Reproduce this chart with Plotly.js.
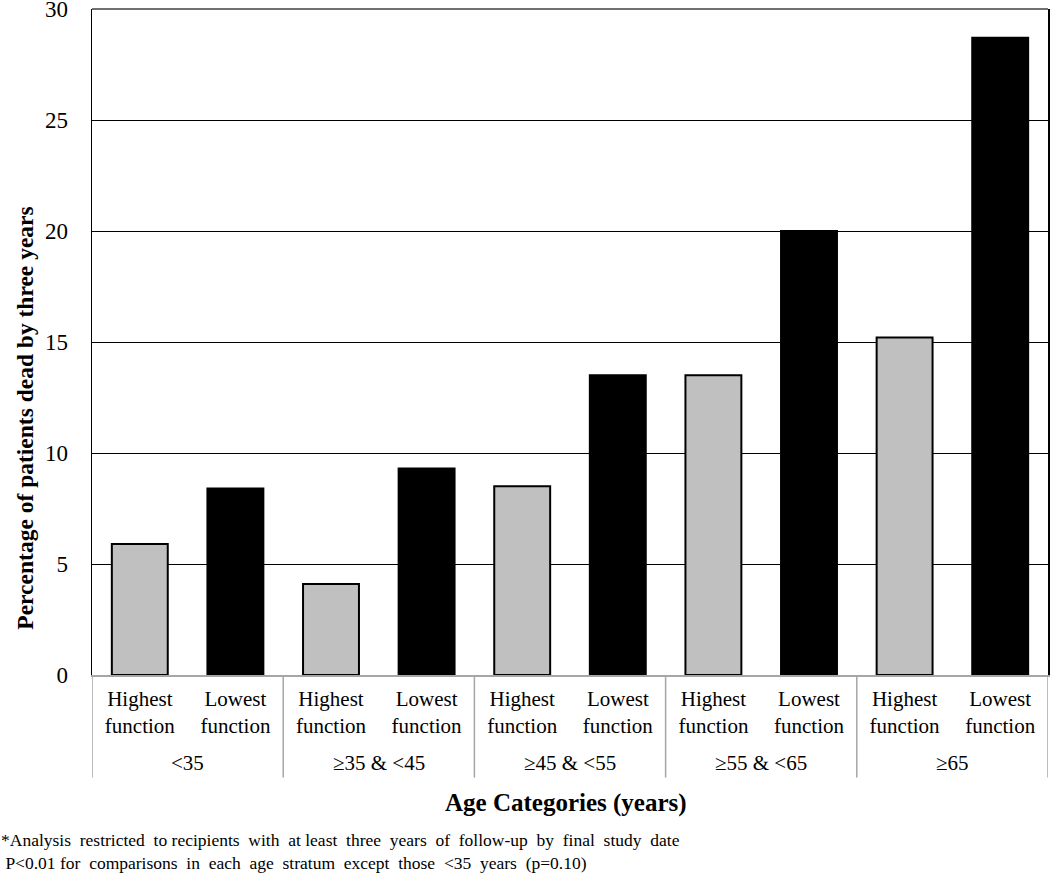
<!DOCTYPE html>
<html>
<head>
<meta charset="utf-8">
<script src="https://cdn.plot.ly/plotly-3.0.1.min.js"></script>
<style>body{margin:0;padding:0;background:#fff;}#chart{width:1050px;height:875px;}</style>
</head>
<body>
<div id="chart"></div>
<script>
const ageGroups = ['<35', '\u226535 & <45', '\u226545 & <55', '\u226555 & <65', '\u226565'];
const functionLevels = ['Highest<br>function', 'Lowest<br>function'];
const highestValues = [5.9, 4.1, 8.5, 13.5, 15.2];
const lowestValues = [8.4, 9.3, 13.5, 20.0, 28.7];
const yTicks = [0, 5, 10, 15, 20, 25, 30];

const serif = 'Liberation Serif, Times New Roman, serif';
const nCat = ageGroups.length * functionLevels.length;
const catIdx = Array.from({length: nCat}, (_, k) => k);
const catText = catIdx.map(k => functionLevels[k % 2]);

const traceHigh = {
  type: 'bar', name: 'Highest function',
  x: ageGroups.map((_, i) => 2 * i), y: highestValues, width: 0.585,
  marker: {color: '#c0c0c0', line: {color: '#000', width: 2}}, hoverinfo: 'skip'
};
const traceLow = {
  type: 'bar', name: 'Lowest function',
  x: ageGroups.map((_, i) => 2 * i + 1), y: lowestValues, width: 0.585,
  marker: {color: '#000', line: {color: '#000', width: 2}}, hoverinfo: 'skip'
};

const groupBottom = -0.154;
const shapes = [];
for (let i = 0; i <= ageGroups.length; i++) {
  shapes.push({type: 'line', xref: 'x', yref: 'paper', x0: 2 * i - 0.5, x1: 2 * i - 0.5, y0: 0, y1: groupBottom,
    line: {color: '#a6a6a6', width: 1.5}});
}
shapes.push({type: 'line', xref: 'paper', yref: 'paper', x0: 0, x1: 1, y0: 1, y1: 1, line: {color: '#404040', width: 1.5}});

const annotations = ageGroups.map((g, i) => ({
  xref: 'x', yref: 'paper', x: 2 * i + 0.5, y: -0.132, xanchor: 'center', yanchor: 'middle',
  showarrow: false, text: g.replace(/</g, '&lt;'), font: {family: serif, size: 21, color: '#000'}
}));
annotations.push({
  xref: 'paper', yref: 'paper', x: 0.496, y: -0.192, xanchor: 'center', yanchor: 'middle', showarrow: false,
  text: '<b>Age Categories (years)</b>', font: {family: serif, size: 25, color: '#000'}
});
annotations.push({
  xref: 'paper', yref: 'paper', x: -0.070, y: 0.385, xanchor: 'center', yanchor: 'middle', showarrow: false,
  textangle: -90, text: '<b>Percentage of patients dead by three years</b>', font: {family: serif, size: 23.5, color: '#000'}
});
annotations.push({
  xref: 'paper', yref: 'paper', x: -0.0973, y: -0.2295, xanchor: 'left', yanchor: 'top',
  align: 'left', showarrow: false,
  text: '*Analysis  restricted  to recipients  with  at least  three  years  of  follow-up  by  final  study  date<br> P&lt;0.01 for  comparisons  in  each  age  stratum  except  those  &lt;35  years  (p=0.10)',
  font: {family: serif, size: 17.5, color: '#000'}
});

const layout = {
  width: 1050, height: 875,
  margin: {l: 92, r: 2, t: 9, b: 200},
  paper_bgcolor: '#fff', plot_bgcolor: '#fff',
  barmode: 'overlay',
  showlegend: false,
  font: {family: serif, color: '#000'},
  xaxis: {
    type: 'linear', range: [-0.5, nCat - 0.5],
    tickmode: 'array', tickvals: catIdx, ticktext: catText,
    tickfont: {family: serif, size: 21, color: '#000'},
    showline: true, linecolor: '#a6a6a6', linewidth: 1.5,
    ticks: '', showgrid: false, zeroline: false, ticklabelstandoff: 4
  },
  yaxis: {
    range: [0, 30], tickvals: yTicks, ticktext: yTicks.map(String),
    tickfont: {family: serif, size: 23, color: '#000'},
    showgrid: true, gridcolor: '#000', gridwidth: 1,
    showline: true, linecolor: '#000', linewidth: 1.5, mirror: true,
    ticks: '', ticklabelstandoff: 18, ticklabeloverflow: 'allow', zeroline: false
  },
  shapes: shapes,
  annotations: annotations
};

Plotly.newPlot('chart', [traceHigh, traceLow], layout, {displayModeBar: false, staticPlot: true});
</script>
</body>
</html>
